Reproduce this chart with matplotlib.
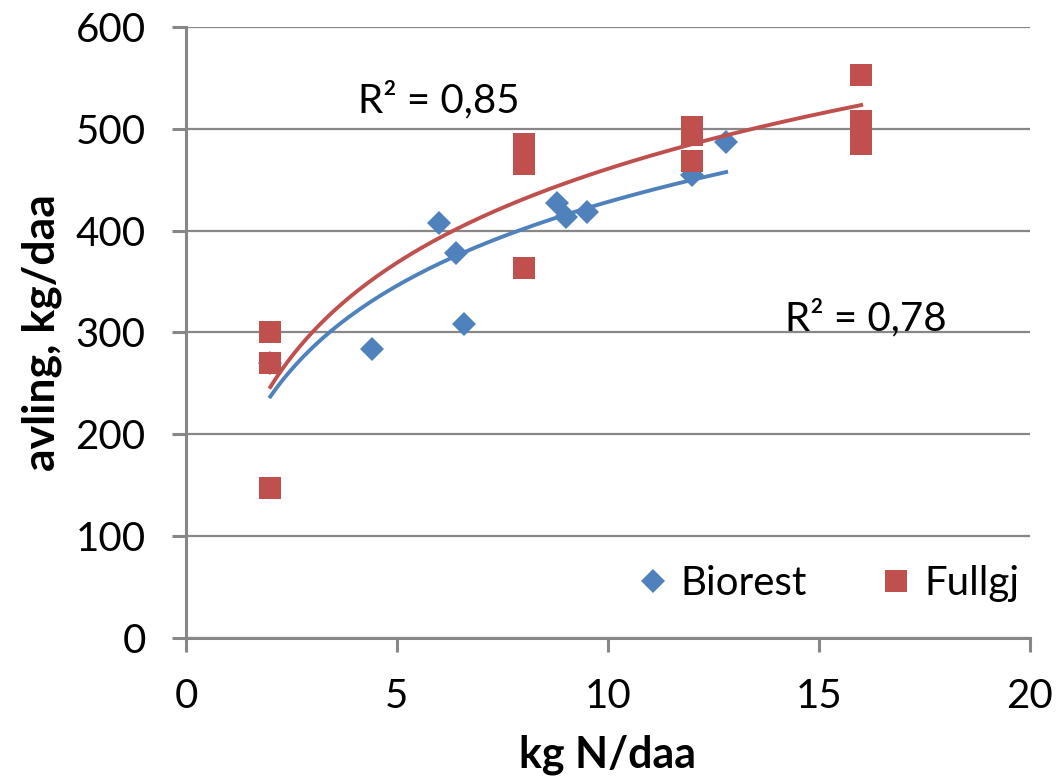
import numpy as np
import matplotlib.pyplot as plt

plt.rcParams['font.family'] = ['Lato', 'DejaVu Sans']

# Biorest (one point at x=2 sits behind the Fullgj squares)
bio_x = [2, 4.4, 6.0, 6.4, 6.6, 8.8, 9.0, 9.5, 12.0, 12.8]
bio_y = [270, 284, 408, 378, 308, 427, 413, 418, 455, 487]

# Fullgj
full_x = [2, 2, 2, 8, 8, 8, 8, 12, 12, 12, 16, 16, 16, 16]
full_y = [300, 270, 147, 485, 475, 465, 363, 502, 494, 468, 553, 508, 497, 485]

r2_labels = ['R² = 0,85', 'R² = 0,78']

blue = '#4F81BD'
red = '#C0504D'
grey = '#878787'


def logfit(x, y):
	"""Excel-style logarithmic trendline: y = a ln(x) + b"""
	x = np.asarray(x, float)
	a, b = np.polyfit(np.log(x), np.asarray(y, float), 1)
	xs = np.linspace(x.min(), x.max(), 200)
	return xs, a * np.log(xs) + b


fig = plt.figure(figsize=(10.59, 7.84), dpi=100)
ax = fig.add_axes([0.1756, 0.1862, 0.7970, 0.7794])

ax.plot(bio_x, bio_y, 'D', color=blue, ms=12, mew=0, label='Biorest', zorder=3)
ax.plot(full_x, full_y, 's', color=red, ms=16, mew=0, label='Fullgj', zorder=4)

xs, ys = logfit(bio_x, bio_y)
ax.plot(xs, ys, color=blue, lw=2.8, zorder=5)
xs, ys = logfit(full_x, full_y)
ax.plot(xs, ys, color=red, lw=2.8, zorder=5)

ax.text(6.0, 528, r2_labels[0], fontsize=29, ha='center', va='center')
ax.text(16.1, 314, r2_labels[1], fontsize=29, ha='center', va='center')

ax.set_xlim(0, 20)
ax.set_ylim(0, 600)
ax.set_xticks([0, 5, 10, 15, 20])
ax.set_yticks(range(0, 601, 100))

ax.yaxis.grid(True, color=grey, lw=1.6)
ax.set_axisbelow(True)
for s in ['top', 'right']:
	ax.spines[s].set_visible(False)
for s in ['left', 'bottom']:
	ax.spines[s].set_color(grey)
	ax.spines[s].set_linewidth(2.2)

ax.tick_params(axis='both', direction='out', length=10, width=2.2, color=grey,
			   labelsize=29, pad=19)

ax.set_xlabel('kg N/daa', fontsize=31, fontweight='bold', labelpad=14)
ax.set_ylabel('avling, kg/daa', fontsize=32, fontweight='bold', labelpad=10)

ax.legend(loc='lower right', ncol=2, frameon=False, fontsize=29,
		  handletextpad=0.1, handlelength=1.2, columnspacing=1.6, markerscale=1.0,
		  bbox_to_anchor=(1.03, 0.0))

fig.savefig('out.png', dpi=100)
